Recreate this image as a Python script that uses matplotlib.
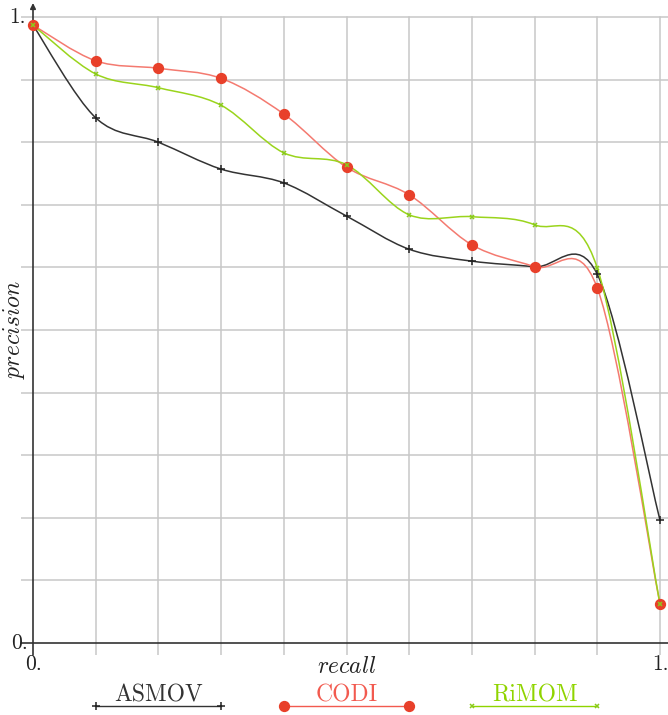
import numpy as np
import matplotlib
matplotlib.use("Agg")
import matplotlib.pyplot as plt
from matplotlib.path import Path
from matplotlib.patches import PathPatch
import matplotlib.transforms as mtransforms

plt.rcParams['mathtext.fontset'] = 'cm'
plt.rcParams['font.family'] = ['cmr10', 'DejaVu Serif']

# recall levels
recall = [0.0, 0.1, 0.2, 0.3, 0.4, 0.5, 0.6, 0.7, 0.8, 0.9, 1.0]

# precision per system
asmov = [0.987, 0.839, 0.800, 0.757, 0.735, 0.682, 0.629, 0.610, 0.601, 0.589, 0.196]
codi = [0.987, 0.930, 0.918, 0.902, 0.845, 0.760, 0.716, 0.636, 0.601, 0.567, 0.062]
rimom = [0.987, 0.909, 0.887, 0.859, 0.783, 0.764, 0.684, 0.681, 0.668, 0.599, 0.062]

names = ['ASMOV', 'CODI', 'RiMOM']
colors = ['#333333', '#f25a4f', '#8fd400']
line_colors = ['#333333', '#f47a70', '#9ad41c']
markers = ['+', 'o', 'x']
msizes = [6, 7, 3.5]
marker_colors = ['#222222', '#e8402a', '#8acb1a']
legend_x = [(0.1, 0.3), (0.4, 0.6), (0.7, 0.9)]


def smooth_path(xs, ys, k=0.165):
    # tikz-like "smooth" curve through the points, using cubic beziers
    pts = np.column_stack([xs, ys])
    n = len(pts)
    verts = [pts[0]]
    codes = [Path.MOVETO]
    for i in range(n - 1):
        p0 = pts[max(i - 1, 0)]
        p1 = pts[i]
        p2 = pts[i + 1]
        p3 = pts[min(i + 2, n - 1)]
        c1 = p1 + k * (p2 - p0)
        c2 = p2 - k * (p3 - p1)
        verts += [c1, c2, p2]
        codes += [Path.CURVE4] * 3
    return Path(verts, codes)


fig = plt.figure(figsize=(6.68, 7.15), dpi=100)
W, H = 668, 715
# pixel geometry of the plot area (data 0..1)
x0p, x1p = 33, 660
y0p, y1p = 643, 17
sx = (x1p - x0p)
sy = (y0p - y1p)
xl = (21 - x0p) / sx
xr = (668 - x0p) / sx
yb = (y0p - 655) / sy
yt = (y0p - 3) / sy
ax = fig.add_axes([21 / W, (H - 655) / H, (668 - 21) / W, (655 - 3) / H])
ax.set_xlim(xl, xr)
ax.set_ylim(yb, yt)
ax.axis('off')

grid = np.arange(0, 11) / 10
grid_c = '#c8c8c8'
for g in grid[1:]:
    ax.plot([g, g], [yb, 1.0], color=grid_c, lw=1.1, zorder=1)
    ax.plot([xl, xr], [g, g], color=grid_c, lw=1.1, zorder=1)

# axes
ax.plot([xl, xr], [0, 0], color='#333333', lw=1.2, zorder=2)
ax.annotate('', xy=(0, yt), xytext=(0, yb),
            arrowprops=dict(arrowstyle='-|>', color='#333333', lw=1.2,
                            mutation_scale=8, shrinkA=0, shrinkB=0), zorder=2)

series = [asmov, codi, rimom]
for vals, lc, mc, m, ms in zip(series, line_colors, marker_colors, markers, msizes):
    ax.add_patch(PathPatch(smooth_path(recall, vals), fill=False, edgecolor=lc,
                           lw=1.1, zorder=3))
    ax.plot(recall, vals, linestyle='none', marker=m, markersize=ms, color=mc,
            markeredgewidth=1.1, zorder=4, clip_on=False)

# tick labels
fs = 15.5
tc = '#222222'
ax.text(-0.012, 1.0, '1.', ha='right', va='center', fontsize=fs, color=tc)
ax.text(-0.008, 0.0, '0.', ha='right', va='center', fontsize=fs, color=tc)
ax.text(0.0, -0.018, '0.', ha='center', va='top', fontsize=fs, color=tc)
ax.text(1.0, -0.018, '1.', ha='center', va='top', fontsize=fs, color=tc)
ax.text(0.5, -0.02, r'$recall$', ha='center', va='top', fontsize=17, color=tc)
ax.text(-0.03, 0.5, r'$precision$', ha='center', va='center', rotation=90,
        fontsize=17, color=tc)

# legend below the plot
trans = mtransforms.blended_transform_factory(ax.transData, fig.transFigure)
for name, c, mc, m, ms, (a, b) in zip(names, colors, marker_colors, markers, msizes, legend_x):
    ax.plot([a, b], [(H - 706) / H] * 2, color=c, lw=1.0, transform=trans, clip_on=False)
    ax.plot([a, b], [(H - 706) / H] * 2, linestyle='none', marker=m, markersize=ms,
            color=mc, markeredgewidth=1.1, transform=trans, clip_on=False)
    ax.text((a + b) / 2, (H - 695) / H, name, ha='center', va='center', fontsize=17,
            color=c, transform=trans)

fig.savefig('out.png', dpi=100)
